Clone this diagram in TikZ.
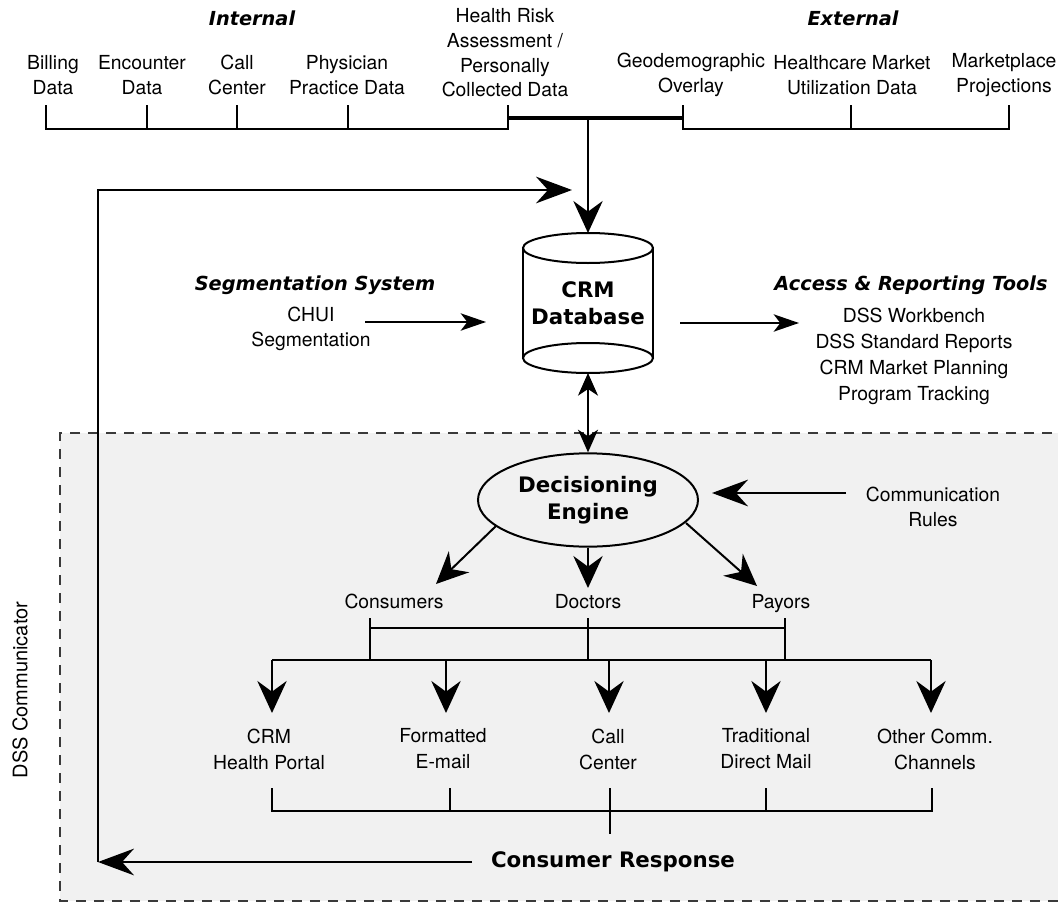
\documentclass[tikz,border=0pt]{standalone}
\usepackage{fontspec}
\setmainfont{TeX Gyre Heros}
\newfontfamily\hdfont{DejaVu Sans Bold Oblique}
\newfontfamily\bdfont{DejaVu Sans Bold}
\usetikzlibrary{arrows.meta,shapes.geometric}
\definecolor{boxgray}{HTML}{F1F1F1}
\definecolor{dashgray}{HTML}{3A3A3A}
\begin{document}
\begin{tikzpicture}[x=0.75pt,y=-0.75pt,
  ln/.style={line width=1.5pt},
  thk/.style={line width=2.3pt},
  bigarr/.style={-{Stealth[length=24pt,width=22pt,inset=8pt]}},
  harr/.style={-{Stealth[length=27pt,width=20pt,inset=9pt]}},
  smarr/.style={-{Stealth[length=19pt,width=13pt,inset=5pt]}},
  dblarr/.style={{Stealth[length=17pt,width=15pt,inset=5pt]}-{Stealth[length=17pt,width=15pt,inset=5pt]}},
  txt/.style={font=\fontsize{14.5}{18.5}\selectfont, align=center, inner sep=0pt},
  txtw/.style={font=\fontsize{14.5}{19.5}\selectfont, align=center, inner sep=0pt},
  hd/.style={font=\hdfont\fontsize{14.5}{18}\selectfont, inner sep=0pt},
  bd/.style={font=\bdfont\fontsize{16}{20}\selectfont, align=center, inner sep=0pt},
  dashbox/.style={draw=dashgray, line width=1.1pt, dash pattern=on 7.5pt off 6pt}
]
\useasboundingbox (0,0) rectangle (1058,903);

% DSS Communicator region
\fill[boxgray] (60,433) rectangle (1070,901);
\draw[dashbox] (1070,433) -- (60,433) -- (60,901) -- (1070,901);
\node[txt, font=\fontsize{15}{18}\selectfont, rotate=90] (dssc) at (20,690) {DSS Communicator};

% ---------- top sources ----------
\node[hd] (internal) at (252,18) {Internal};
\node[hd] (external) at (853,18) {External};
\node[txt] (bill) at (53,75) {Billing\\Data};
\node[txt] (enc) at (142,75) {Encounter\\Data};
\node[txt] (callc) at (237,75) {Call\\Center};
\node[txt] (phys) at (347,75) {Physician\\Practice Data};
\node[txt] (hra) at (505,53) {Health Risk\\Assessment /\\Personally\\Collected Data};
\node[txt] (geo) at (691,75) {Geodemographic\\Overlay};
\node[txt] (hmu) at (852,75) {Healthcare Market\\Utilization Data};
\node[txt] (mkt) at (1004,75) {Marketplace\\Projections};

\coordinate (ibar) at (0,129);
\coordinate (tbar) at (0,118);
\coordinate (tb) at (46,105);
\coordinate (te) at (147,105);
\coordinate (tc) at (237,105);
\coordinate (tp) at (348,105);
\coordinate (th) at (508,105);
\coordinate (tg) at (683,105);
\coordinate (tm) at (851,105);
\coordinate (tk) at (1009,105);
\coordinate (junc) at (588,118);

\draw[ln] (tb) -- (tb|-ibar) -- (th|-ibar) -- (th);
\foreach \c in {te,tc,tp} \draw[ln] (\c) -- (\c|-ibar);
\draw[ln] (tg) -- (tg|-ibar) -- (tk|-ibar) -- (tk);
\draw[ln] (tm) -- (tm|-ibar);
\draw[thk] (th|-tbar) -- (tg|-tbar);

% ---------- CRM database ----------
\coordinate (dbtop) at (588,233);
\coordinate (dbbot) at (588,373);
\draw[ln] (523,248) -- (523,358);
\draw[ln] (653,248) -- (653,358);
\draw[ln] (588,248) ellipse [x radius=65, y radius=15];
\draw[ln] (588,358) ellipse [x radius=65, y radius=15];
\node[bd] (db) at (588,303) {CRM\\Database};

\draw[ln,bigarr] (junc) -- (dbtop);

% feedback loop
\coordinate (fbc) at (98,862);
\coordinate (fbt) at (98,190);
\coordinate (fbe) at (572,190);
\draw[ln,harr] (fbc) -- (fbt) -- (fbe);

% segmentation
\node[hd] (seghd) at (315,285) {Segmentation System};
\node[txt] (chui) at (311,329) {CHUI\\Segmentation};
\coordinate (chuiA) at (365,322);
\coordinate (chuiB) at (486,322);
\draw[ln,smarr] (chuiA) -- (chuiB);

% access & reporting
\node[hd] (acchd) at (911,285) {Access \& Reporting Tools};
\node[txtw] (acc) at (914,356) {DSS Workbench\\DSS Standard Reports\\CRM Market Planning\\Program Tracking};
\coordinate (accA) at (680,323);
\coordinate (accB) at (799,323);
\draw[ln,smarr] (accA) -- (accB);

% ---------- decisioning engine ----------
\node[draw, ln, ellipse, minimum width=165pt, minimum height=70pt, bd] (de) at (588,500) {Decisioning\\Engine};
\draw[ln,dblarr] (dbbot) -- (de.north);

\node[txt] (comm) at (933,507) {Communication\\Rules};
\coordinate (cmA) at (846,493);
\coordinate (cmB) at (712,493);
\draw[ln,harr] (cmA) -- (cmB);

\coordinate (dl1) at (496,526);
\coordinate (dl2) at (436,584);
\coordinate (dm2) at (588,588);
\coordinate (dr1) at (686,523);
\coordinate (dr2) at (757,586);
\draw[ln,bigarr] (dl1) -- (dl2);
\draw[ln,bigarr] (de.south) -- (dm2);
\draw[ln,bigarr] (dr1) -- (dr2);

\node[txt, anchor=base] (cons) at (394,608) {Consumers};
\node[txt, anchor=base] (doc) at (588,608) {Doctors};
\node[txt, anchor=base] (pay) at (781,608) {Payors};

% bracket and bus
\coordinate (bk) at (0,628);
\coordinate (bus) at (0,660);
\coordinate (kc) at (370,618);
\coordinate (kd) at (588,618);
\coordinate (kp) at (785,618);
\draw[ln] (kc) -- (kc|-bus);
\draw[ln] (kd) -- (kd|-bus);
\draw[ln] (kp) -- (kp|-bus);
\draw[ln] (kc|-bk) -- (kp|-bk);

\coordinate (c1) at (272,660);
\coordinate (c2) at (446,660);
\coordinate (c3) at (609,660);
\coordinate (c4) at (766,660);
\coordinate (c5) at (931,660);
\coordinate (tip) at (0,713);
\draw[ln] (c1) -- (c5);
\foreach \c in {c1,c2,c3,c4,c5} \draw[ln,bigarr] (\c) -- (\c|-tip);

% channels
\node[txtw] (ch1) at (269,749) {CRM\\Health Portal};
\node[txtw] (ch2) at (443,749) {Formatted\\E-mail};
\node[txtw] (ch3) at (608,749) {Call\\Center};
\node[txtw] (ch4) at (766,749) {Traditional\\Direct Mail};
\node[txtw] (ch5) at (935,749) {Other Comm.\\Channels};

% response bracket
\coordinate (rb) at (0,811);
\coordinate (rc) at (0,834);
\coordinate (r1) at (272,788);
\coordinate (r2) at (450,788);
\coordinate (r3) at (610,788);
\coordinate (r4) at (766,788);
\coordinate (r5) at (932,788);
\draw[ln] (r1) -- (r1|-rb) -- (r5|-rb) -- (r5);
\draw[ln] (r2) -- (r2|-rb);
\draw[ln] (r4) -- (r4|-rb);
\draw[ln] (r3) -- (r3|-rc);

\node[bd] (cresp) at (613,862) {Consumer Response};
\coordinate (crA) at (472,862);
\draw[ln,harr] (crA) -- (fbc);
\end{tikzpicture}
\end{document}
